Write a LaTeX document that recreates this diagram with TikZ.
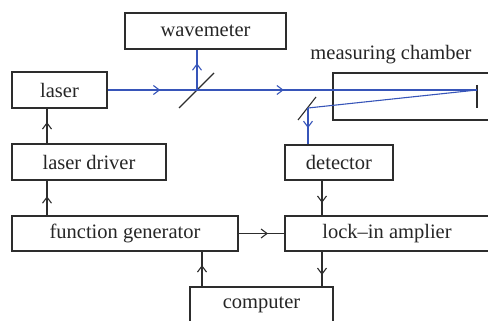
\documentclass[tikz,border=0pt]{standalone}
\usepackage{fontspec}
\setmainfont{LiberationSerif}[Extension=.ttf,UprightFont=*-Regular]
\usetikzlibrary{arrows.meta,decorations.markings}
\definecolor{beam}{RGB}{55,85,185}
\definecolor{edge}{RGB}{45,45,45}
\tikzset{
  box/.style={draw=edge, line width=1.1pt, rectangle, inner sep=0pt, text=black!85,
    font=\rmfamily\fontsize{20.5}{24}\selectfont},
  lbl/.style={text=black!85, font=\rmfamily\fontsize{20.5}{24}\selectfont, inner sep=0pt},
  sig/.style={draw=edge, line width=1.1pt, postaction={decorate},
    decoration={markings, mark=at position #1 with {\arrow[edge,line width=1.1pt]{Straight Barb[length=6pt,width=9pt]}}}},
  ray/.style={draw=beam, line width=1.1pt, postaction={decorate},
    decoration={markings, mark=at position #1 with {\arrow[beam,line width=1.1pt]{Straight Barb[length=6pt,width=9pt]}}}},
  plainray/.style={draw=beam, line width=1.1pt},
  optic/.style={draw=edge, line width=1.1pt}
}
\begin{document}
\begin{tikzpicture}[x=1pt,y=-1pt]
\useasboundingbox (0,0) rectangle (488,321);
\clip (0,0) rectangle (488,321);
% boxes
\node[box, minimum width=161pt, minimum height=36pt] (wm) at (205.5,31) {wavemeter};
\node[box, minimum width=95pt, minimum height=36pt] (laser) at (59.5,90) {laser};
\node[box, minimum width=154pt, minimum height=36pt] (ld) at (89,162) {laser driver};
\node[box, minimum width=226pt, minimum height=35pt] (fg) at (125,233.5) {function generator};
\node[box, minimum width=143pt, minimum height=36pt] (pc) at (261.5,305) {computer};
\node[box, minimum width=108pt, minimum height=35pt] (det) at (339,162.5) {detector};
\node[box, minimum width=204pt, minimum height=35pt] (lia) at (387,233.5) {lock–in amplier};
\node[box, minimum width=170pt, minimum height=47pt] (mc) at (418,96.5) {};
\node[lbl] (mclbl) at (391,55) {measuring chamber};
% optical points
\coordinate (bs1) at (197,90);
\coordinate (bs2) at (308,108);
\coordinate (mir) at (477,90);
\coordinate (mirtop) at (477,85);
\coordinate (mirbot) at (477,108);
\coordinate (bs1a) at (179,108);
\coordinate (bs1b) at (214,73);
\coordinate (bs2a) at (298,120);
\coordinate (bs2b) at (316,97);
\coordinate (xa) at (47,0);
\coordinate (xb) at (202,0);
\coordinate (xc) at (322,0);
% optics
\draw[optic] (bs1a) -- (bs1b);
\draw[optic] (bs2a) -- (bs2b);
\draw[optic] (mirtop) -- (mirbot);
% beams
\draw[ray=0.59] (laser.east) -- (bs1);
\draw[ray=0.66] (bs1) -- (bs1 |- wm.south);
\draw[ray=0.31] (bs1) -- (mir);
\draw[plainray] (mir) -- (bs2);
\draw[ray=0.55] (bs2) -- (bs2 |- det.north);
% signals
\draw[sig=0.61] (ld.north -| xa) -- (laser.south -| xa);
\draw[sig=0.55] (fg.north -| xa) -- (ld.south -| xa);
\draw[sig=0.61] (pc.north -| xb) -- (fg.south -| xb);
\draw[sig=0.64] (fg.east) -- (lia.west);
\draw[sig=0.64] (det.south -| xc) -- (lia.north -| xc);
\draw[sig=0.67] (lia.south -| xc) -- (pc.north -| xc);
\end{tikzpicture}
\end{document}
